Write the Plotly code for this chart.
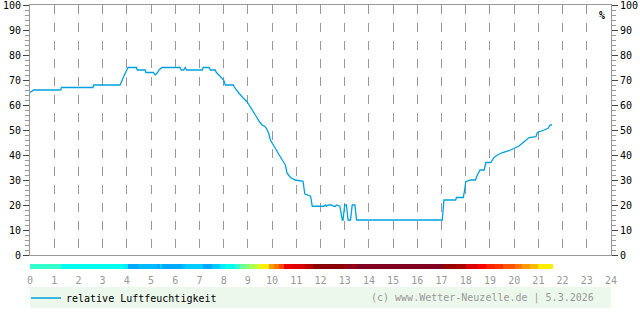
import plotly.graph_objects as go

# Relative humidity (%) over the day, time in hours
hours = [0.0, 0.15, 1.27, 1.30, 2.60, 2.63, 3.72, 3.80, 3.90, 4.00, 4.05, 4.40, 4.43, 4.76, 4.79,
         5.10, 5.17, 5.27, 5.33, 5.45, 6.20, 6.25, 6.35, 6.41, 6.47, 7.12, 7.15, 7.40, 7.45, 7.65,
         7.70, 7.80, 7.90, 8.00, 8.07, 8.40, 8.45, 8.55, 8.65, 8.76, 8.85, 8.96, 9.05, 9.17, 9.28,
         9.38, 9.50, 9.59, 9.72, 9.80, 9.86, 9.93, 10.03, 10.14, 10.25, 10.34, 10.45, 10.55, 10.62,
         10.76, 10.96, 11.28, 11.35, 11.59, 11.66, 12.14, 12.20, 12.25, 12.32, 12.45, 12.55, 12.62,
         12.66, 12.75, 12.80, 12.90, 12.93, 13.00, 13.07, 13.14, 13.24, 13.31, 13.42, 13.49, 17.03,
         17.10, 17.58, 17.62, 17.90, 17.97, 18.00, 18.20, 18.40, 18.48, 18.59, 18.76, 18.83, 19.03,
         19.17, 19.31, 19.52, 19.79, 20.00, 20.20, 20.41, 20.62, 20.90, 20.96, 21.24, 21.40, 21.49,
         21.56]
humidity = [65, 66, 66, 67, 67, 68, 68, 70, 72, 74, 75, 75, 74, 74, 73,
            73, 72, 73, 74, 75, 75, 74, 74, 75, 74, 74, 75, 75, 74, 74,
            73, 72, 71, 70, 68, 68, 67, 65.5, 64.5, 63.3, 62.5, 61.3, 60, 58, 56.5,
            54.7, 53, 52, 51.3, 50, 48.7, 46, 44.5, 42.7, 41, 39.3, 37.5, 36, 32.7,
            31, 30, 29.5, 24.5, 23.5, 19.5, 19.5, 20, 19.5, 20, 20, 19.5, 19.5,
            20, 19.5, 19.5, 14, 14, 20, 20, 14, 14, 20, 20, 14, 14,
            22, 22, 23, 23, 27, 29.3, 30, 30, 32, 34, 34, 37, 37,
            39, 40, 41, 41.7, 42.7, 43.6, 45.3, 47, 47.3, 49, 50, 50.7, 52,
            52]

# Temperature colour strip: segment edges (hours) and colours
strip_edges = [0.0, 1.30, 3.85, 4.06, 4.47, 5.23, 5.37, 5.45, 6.28, 6.41, 7.15, 7.52, 7.83, 8.07,
               8.48, 8.69, 8.90, 9.10, 9.31, 9.52, 9.86, 10.07, 10.27, 10.48, 10.84, 11.37, 11.70,
               12.98, 13.12, 13.32, 13.46, 17.06, 17.61, 18.03, 18.51, 18.85, 19.20, 19.54, 20.03,
               20.34, 20.65, 20.99, 21.59]
strip_colors = ["#33FFCC", "#00FFEE", "#00EEFF", "#00AAFF", "#00BBFF", "#00AAFF", "#00CCFF",
                "#00AAFF", "#00BBFF", "#00CCFF", "#00AAFF", "#00CCFF", "#00EEFF", "#00FFEE",
                "#33FFCC", "#66FF99", "#88FF77", "#AAFF55", "#CCFF33", "#FFEE00", "#FF9900",
                "#FF7700", "#FF4400", "#EE0000", "#DD0000", "#BB0000", "#880000", "#990011",
                "#880022", "#990011", "#800020", "#990000", "#AA0000", "#DD0000", "#FF0000",
                "#FF2200", "#FF3300", "#FF5500", "#FF7700", "#FF9900", "#FFBB00", "#FFEE00"]

hour_ticks = list(range(0, 25))
y_ticks = list(range(0, 101, 10))

FONT = "DejaVu Sans Mono"
W, H = 640, 315
ml, mr, mt, mb = 30, 29, 5, 46
ph = H - mt - mb  # 264


def py(pix):
    return (H - mb - pix) / ph


fig = go.Figure()

fig.add_trace(go.Scatter(
    x=hours, y=humidity, mode="lines", name="relative Luftfeuchtigkeit",
    line=dict(color="#00A0E0", width=1.3), xaxis="x", yaxis="y"))

# invisible trace to keep right axis drawn
fig.add_trace(go.Scatter(x=[None], y=[None], xaxis="x", yaxis="y3",
                         showlegend=False, hoverinfo="skip"))

mids = [(strip_edges[i] + strip_edges[i + 1]) / 2 for i in range(len(strip_colors))]
widths = [strip_edges[i + 1] - strip_edges[i] for i in range(len(strip_colors))]
fig.add_trace(go.Bar(
    x=mids, y=[1] * len(mids), width=widths, marker=dict(color=strip_colors, line=dict(width=0)),
    xaxis="x2", yaxis="y2", showlegend=False, hoverinfo="skip"))

axis_font = dict(family=FONT, size=10, color="#000")

fig.update_layout(
    width=W, height=H,
    margin=dict(l=ml, r=mr, t=mt, b=mb, pad=0, autoexpand=False),
    paper_bgcolor="white", plot_bgcolor="white",
    bargap=0,
    showlegend=True,
    legend=dict(x=(26 - ml) / 581, y=py(298), xanchor="left", yanchor="middle",
                orientation="h", bgcolor="rgba(0,0,0,0)", itemwidth=30,
                font=dict(family=FONT, size=10, color="#000")),
    xaxis=dict(domain=[0, 1], range=[0, 24], anchor="y", showticklabels=False,
               showgrid=True, gridcolor="#999", griddash="dash", gridwidth=1,
               tickvals=hour_ticks, showline=True, linecolor="#999", mirror=True,
               zeroline=False, ticks="", automargin=False),
    yaxis=dict(domain=[py(255), 1], range=[0, 100], anchor="x", tickvals=y_ticks,
               ticks="outside", ticklen=6, tickcolor="#444", tickfont=axis_font,
               ticklabeloverflow="allow", automargin=False,
               minor=dict(dtick=2, ticks="outside", ticklen=4, tickcolor="#999"),
               showgrid=False, zeroline=False, showline=True, linecolor="#999"),
    yaxis3=dict(range=[0, 100], overlaying="y", side="right", anchor="x", tickvals=y_ticks,
                ticks="outside", ticklen=6, tickcolor="#444", tickfont=axis_font,
                ticklabeloverflow="allow", automargin=False,
                minor=dict(dtick=2, ticks="outside", ticklen=4, tickcolor="#999"),
                showgrid=False, zeroline=False, showline=True, linecolor="#999"),
    xaxis2=dict(domain=[0, 1], range=[0, 24], anchor="y2", tickvals=hour_ticks,
                ticks="", showgrid=False, zeroline=False, showline=False,
                ticklabelstandoff=4, ticklabeloverflow="allow", automargin=False,
                tickfont=dict(family=FONT, size=10, color="#999")),
    yaxis2=dict(domain=[0, py(264)], range=[0, 1], anchor="x2", visible=False),
    shapes=[dict(type="rect", xref="paper", yref="paper", x0=0, x1=1,
                 y0=py(308), y1=py(287), fillcolor="#ECF8EC", line=dict(width=0),
                 layer="below")],
    annotations=[
        dict(text="(c) www.Wetter-Neuzelle.de | 5.3.2026", xref="paper", yref="paper",
             x=(596 - ml) / 581, y=py(298), xanchor="right", yanchor="middle",
             showarrow=False, font=dict(family=FONT, size=10, color="#999")),
        dict(text="<b>%</b>", xref="paper", yref="paper", x=(602 - ml) / 581, y=py(16),
             xanchor="center", yanchor="middle", showarrow=False,
             font=dict(family=FONT, size=10, color="#000")),
    ],
)

fig.write_html("out.html")
